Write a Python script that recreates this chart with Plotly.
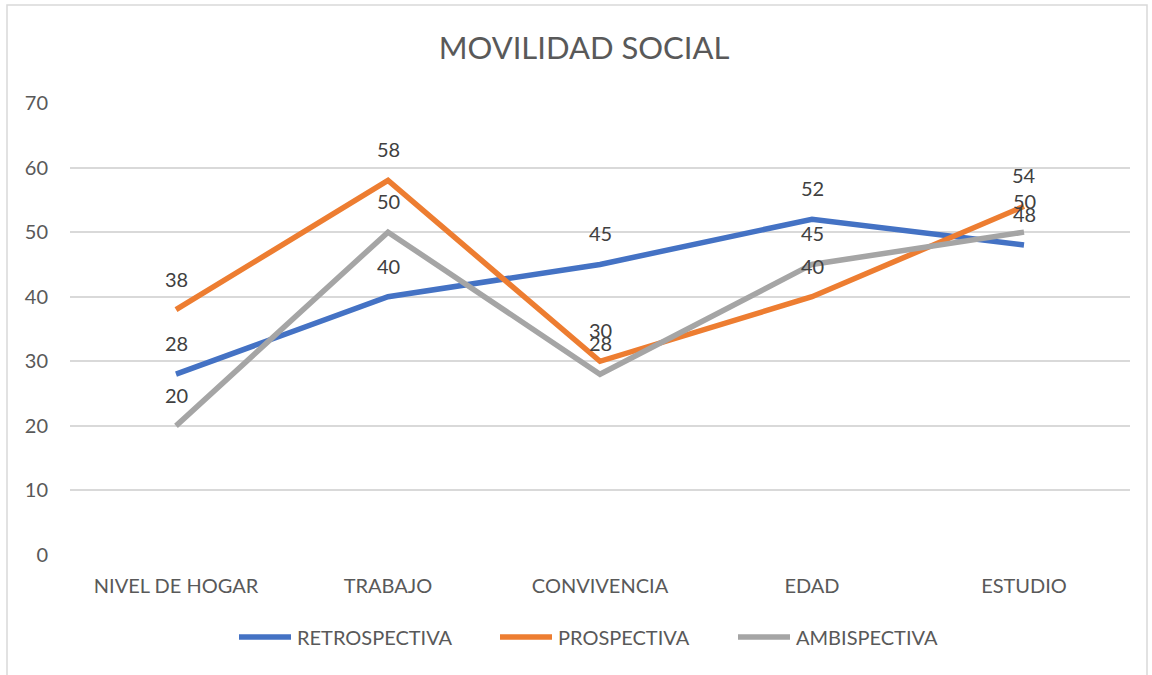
import plotly.graph_objects as go

categories = ["NIVEL DE HOGAR", "TRABAJO", "CONVIVENCIA", "EDAD", "ESTUDIO"]
retrospectiva = [28, 40, 45, 52, 48]
prospectiva = [38, 58, 30, 40, 54]
ambispectiva = [20, 50, 28, 45, 50]
series_names = ["RETROSPECTIVA", "PROSPECTIVA", "AMBISPECTIVA"]
colors = ["#4472C4", "#ED7D31", "#A5A5A5"]
y_ticks = [0, 10, 20, 30, 40, 50, 60, 70]

W, H = 1152, 675
L, R, T, B = 70, 22, 103, 120
FONT = "Lato"
TXT = "#595959"
pw = W - L - R
ph = H - T - B


def px_x(p):
    return (p - L) / pw


def px_y(p):
    return (H - B - p) / ph


fig = go.Figure()
for name, vals, col in zip(series_names, [retrospectiva, prospectiva, ambispectiva], colors):
    fig.add_trace(go.Scatter(
        x=categories, y=vals, name=name, mode="lines",
        line=dict(color=col, width=5.5), showlegend=False,
    ))
    for c, v in zip(categories, vals):
        fig.add_annotation(x=c, y=v, text=str(v), showarrow=False,
                           yshift=31, yanchor="middle",
                           font=dict(family=FONT, size=20, color="#404040"))

# chart border
fig.add_shape(type="rect", xref="paper", yref="paper",
              x0=px_x(7), x1=px_x(1147), y0=px_y(690), y1=px_y(5),
              line=dict(color="#D9D9D9", width=1.5), fillcolor="rgba(0,0,0,0)", layer="below")

# legend (custom, to match the reference's long line keys)
legend_starts = [237, 498, 736]
for name, col, x0 in zip(series_names, colors, legend_starts):
    fig.add_shape(type="line", xref="paper", yref="paper",
                  x0=px_x(x0 + 2), x1=px_x(x0 + 54), y0=px_y(637), y1=px_y(637),
                  line=dict(color=col, width=5.5))
    fig.add_annotation(xref="paper", yref="paper", x=px_x(x0 + 58), y=px_y(637),
                       xanchor="left", yanchor="middle", showarrow=False, text=name,
                       font=dict(family=FONT, size=20, color=TXT))

fig.update_layout(
    width=W, height=H,
    margin=dict(l=L, r=R, t=T, b=B, autoexpand=False),
    paper_bgcolor="white", plot_bgcolor="white",
    title=dict(text="MOVILIDAD SOCIAL", x=584 / W, xanchor="center",
               y=1 - 48 / H, yanchor="middle",
               font=dict(family=FONT, size=31, color=TXT)),
    font=dict(family=FONT, color=TXT),
    showlegend=False,
    xaxis=dict(showgrid=False, showline=False, zeroline=False, ticks="",
               range=[-0.5, 4.5], automargin=False,
               tickfont=dict(family=FONT, size=20, color=TXT), ticklabelstandoff=17),
    yaxis=dict(range=[0, 70], tickvals=y_ticks, showgrid=True, gridcolor="#D9D9D9",
               gridwidth=1.5, zeroline=False, showline=False, ticks="", automargin=False,
               tickfont=dict(family=FONT, size=20, color=TXT), ticklabelstandoff=21),
)

fig.write_html("out.html", config={"displayModeBar": False},
               post_script="document.body.style.margin='0';document.body.style.padding='0';")
